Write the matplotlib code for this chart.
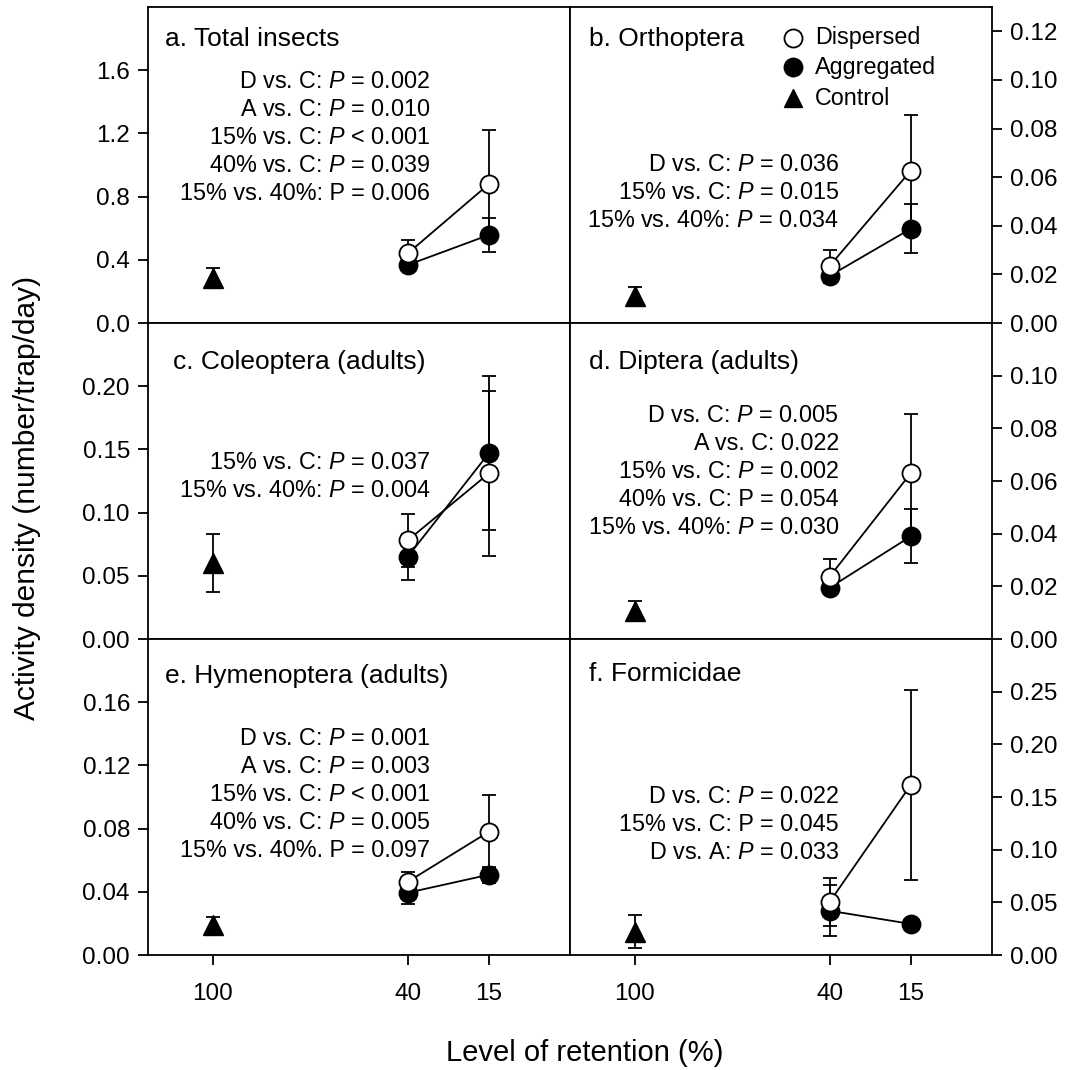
import matplotlib
matplotlib.use('Agg')
import matplotlib.pyplot as plt
from matplotlib.ticker import FormatStrFormatter
import numpy as np

plt.rcParams['font.family'] = ['Liberation Sans', 'DejaVu Sans']
plt.rcParams['mathtext.fontset'] = 'custom'
plt.rcParams['mathtext.rm'] = 'Liberation Sans'
plt.rcParams['mathtext.it'] = 'Liberation Sans:italic'

# ---------------- data ----------------
retention = [100, 40, 15]          # control at 100, treatments at 40 and 15
treat_levels = [40, 15]
tick_labels = ['100', '40', '15']

titles = ['a. Total insects', 'b. Orthoptera', 'c. Coleoptera (adults)',
          'd. Diptera (adults)', 'e. Hymenoptera (adults)', 'f. Formicidae']

ctrl_mean = [0.285, 0.011, 0.060, 0.0107, 0.019, 0.022]
ctrl_se = [0.060, 0.0037, 0.023, 0.0038, 0.005, 0.0158]

disp_mean = [[0.440, 0.879], [0.0235, 0.0627], [0.078, 0.131],
             [0.0237, 0.063], [0.0463, 0.078], [0.0504, 0.1616]]
disp_se = [[0.085, 0.340], [0.0065, 0.0227], [0.021, 0.065],
           [0.0065, 0.0225], [0.006, 0.023], [0.023, 0.090]]

aggr_mean = [[0.367, 0.557], [0.0194, 0.0388], [0.065, 0.147],
             [0.0195, 0.039], [0.0394, 0.0508], [0.042, 0.0295]]
aggr_se = [[0.040, 0.107], [0.003, 0.010], [0.018, 0.061],
           [0.002, 0.0102], [0.007, 0.005], [0.024, 0.003]]

y_max = [2.0, 0.13, 0.25, 0.12, 0.20, 0.30]
y_ticks = [[0, 0.4, 0.8, 1.2, 1.6],
           [0, 0.02, 0.04, 0.06, 0.08, 0.10, 0.12],
           [0, 0.05, 0.10, 0.15, 0.20],
           [0, 0.02, 0.04, 0.06, 0.08, 0.10],
           [0, 0.04, 0.08, 0.12, 0.16],
           [0, 0.05, 0.10, 0.15, 0.20, 0.25]]
y_fmt = ['%.1f', '%.2f', '%.2f', '%.2f', '%.2f', '%.2f']

stats = [
    ['D vs. C: $P$ = 0.002', 'A vs. C: $P$ = 0.010', '15% vs. C: $P$ < 0.001',
     '40% vs. C: $P$ = 0.039', '15% vs. 40%: P = 0.006'],
    ['D vs. C: $P$ = 0.036', '15% vs. C: $P$ = 0.015', '15% vs. 40%: $P$ = 0.034'],
    ['15% vs. C: $P$ = 0.037', '15% vs. 40%: $P$ = 0.004'],
    ['D vs. C: $P$ = 0.005', 'A vs. C: 0.022', '15% vs. C: $P$ = 0.002',
     '40% vs. C: P = 0.054', '15% vs. 40%: $P$ = 0.030'],
    ['D vs. C: $P$ = 0.001', 'A vs. C: $P$ = 0.003', '15% vs. C: $P$ < 0.001',
     '40% vs. C: $P$ = 0.005', '15% vs. 40%. P = 0.097'],
    ['D vs. C: $P$ = 0.022', '15% vs. C: P = 0.045', 'D vs. A: $P$ = 0.033'],
]
legend_labels = ['Dispersed', 'Aggregated', 'Control']

# ---------------- layout ----------------
stat_pos = [(0.668, 0.772), (0.637, 0.510), (0.668, 0.566),
            (0.637, 0.715), (0.668, 0.692), (0.637, 0.511)]
title_pos = [(0.040, 0.900), (0.045, 0.900), (0.060, 0.877),
             (0.045, 0.877), (0.040, 0.883), (0.045, 0.889)]

W, H = 1073, 1070
fig = plt.figure(figsize=(W / 100, H / 100), dpi=100)

col_x = [148 / W, 570 / W]
ax_w = 422 / W
row_top = [7, 323, 639]
ax_h = 316 / H

LW = 1.3
MS = 13
for i in range(6):
    r, c = divmod(i, 2)
    ax = fig.add_axes([col_x[c], 1 - (row_top[r] + 316) / H, ax_w, ax_h])
    ax.set_xlim(120, -10)
    ax.set_ylim(0, y_max[i])

    # control
    ax.errorbar([retention[0]], [ctrl_mean[i]], yerr=[ctrl_se[i]], fmt='none',
                ecolor='k', elinewidth=LW, capsize=5, capthick=LW, zorder=2)
    ax.plot([retention[0]], [ctrl_mean[i]], linestyle='none', marker='^',
            ms=14, color='k', zorder=4)
    # aggregated
    ax.errorbar(treat_levels, aggr_mean[i], yerr=aggr_se[i], fmt='none',
                ecolor='k', elinewidth=LW, capsize=5, capthick=LW, zorder=2)
    ax.plot(treat_levels, aggr_mean[i], '-', color='k', lw=LW, zorder=3)
    ax.plot(treat_levels, aggr_mean[i], linestyle='none', marker='o', ms=MS,
            mfc='k', mec='k', mew=1.3, zorder=4)
    # dispersed
    ax.errorbar(treat_levels, disp_mean[i], yerr=disp_se[i], fmt='none',
                ecolor='k', elinewidth=LW, capsize=5, capthick=LW, zorder=2)
    ax.plot(treat_levels, disp_mean[i], '-', color='k', lw=LW, zorder=3)
    ax.plot(treat_levels, disp_mean[i], linestyle='none', marker='o', ms=MS,
            mfc='white', mec='k', mew=1.3, zorder=5)

    for s in ax.spines.values():
        s.set_linewidth(LW)

    ax.set_xticks(retention)
    if r == 2:
        ax.set_xticklabels(tick_labels)
    else:
        ax.set_xticklabels([])
    ax.set_yticks(y_ticks[i])
    ax.yaxis.set_major_formatter(FormatStrFormatter(y_fmt[i]))
    if c == 1:
        ax.yaxis.tick_right()
    ax.tick_params(axis='both', direction='out', length=7, width=LW,
                   labelsize=17.5)
    ax.tick_params(axis='y', pad=6)
    ax.tick_params(axis='x', pad=13)

    tx, ty = title_pos[i]
    ax.text(tx, ty, titles[i], transform=ax.transAxes, ha='left',
            va='center', fontsize=19)

    sx, sy = stat_pos[i]
    for k, line in enumerate(stats[i]):
        ax.text(sx, sy - k * 0.0886, line, transform=ax.transAxes,
                ha='right', va='center_baseline', fontsize=16.8)

    if i == 1:
        ly = [0.902, 0.810, 0.712]
        styles = [dict(marker='o', mfc='white', mec='k', ms=MS, mew=1.3),
                  dict(marker='o', mfc='k', mec='k', ms=MS, mew=1.3),
                  dict(marker='^', mfc='k', mec='k', ms=13, mew=1.0)]
        for yy, lab, st in zip(ly, legend_labels, styles):
            ax.plot([0.528], [yy], transform=ax.transAxes, linestyle='none',
                    clip_on=False, zorder=6, **st)
            ax.text(0.581, yy, lab, transform=ax.transAxes, ha='left',
                    va='center', fontsize=16.8)

fig.text(0.0256, 1 - 498 / H, 'Activity density (number/trap/day)',
         rotation=90, ha='center', va='center', fontsize=21.5)
fig.text(585 / W, 1 - 1053 / H, 'Level of retention (%)', ha='center',
         va='center', fontsize=21)

fig.savefig('out.png', dpi=100)
